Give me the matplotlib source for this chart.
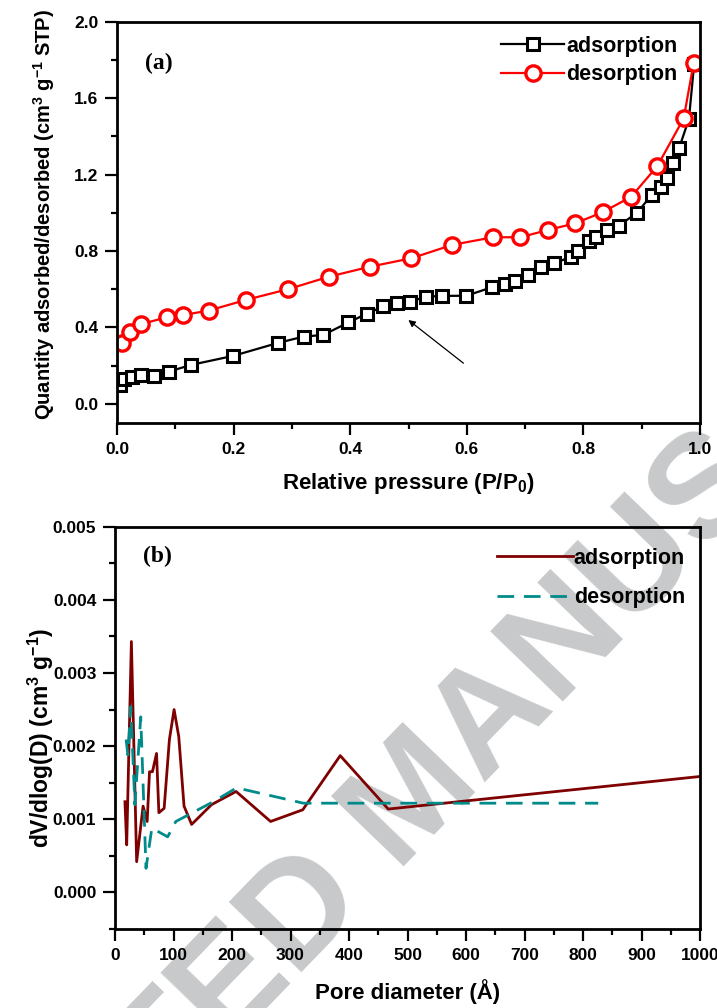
import matplotlib
matplotlib.use("Agg")
import matplotlib.pyplot as plt
from matplotlib.ticker import MultipleLocator, FormatStrFormatter

# ---------------- data ----------------
# (a) isotherm
ads_p = [0.005, 0.012, 0.025, 0.042, 0.064, 0.089, 0.127, 0.199, 0.276, 0.320,
         0.354, 0.397, 0.429, 0.457, 0.480, 0.503, 0.530, 0.558, 0.599, 0.643,
         0.665, 0.683, 0.705, 0.727, 0.750, 0.779, 0.791, 0.810, 0.821, 0.840,
         0.861, 0.892, 0.917, 0.933, 0.944, 0.954, 0.964, 0.981, 0.990]
ads_q = [0.100, 0.130, 0.143, 0.149, 0.146, 0.169, 0.204, 0.251, 0.319, 0.352,
         0.361, 0.426, 0.473, 0.510, 0.527, 0.535, 0.561, 0.565, 0.566, 0.610,
         0.628, 0.643, 0.675, 0.718, 0.736, 0.770, 0.802, 0.854, 0.875, 0.910,
         0.933, 1.000, 1.093, 1.137, 1.184, 1.259, 1.337, 1.491, 1.780]
des_p = [0.008, 0.022, 0.042, 0.085, 0.113, 0.157, 0.221, 0.293, 0.364, 0.434,
         0.505, 0.575, 0.645, 0.692, 0.739, 0.786, 0.833, 0.882, 0.927, 0.972, 0.989]
des_q = [0.321, 0.378, 0.418, 0.453, 0.465, 0.488, 0.544, 0.600, 0.666, 0.718,
         0.762, 0.832, 0.872, 0.872, 0.910, 0.945, 1.003, 1.084, 1.245, 1.494, 1.782]

# (b) pore size distribution
psd_ads_d = [17, 20, 28, 37, 48, 55, 59, 64, 71, 75, 84, 93, 101, 109, 118, 131,
             165, 207, 266, 321, 385, 467, 1000]
psd_ads_v = [0.00124, 0.00065, 0.00343, 0.00042, 0.00118, 0.00097, 0.00165, 0.00165,
             0.00190, 0.00109, 0.00115, 0.00209, 0.00250, 0.00213, 0.00118, 0.00093,
             0.00120, 0.00138, 0.00097, 0.00113, 0.00187, 0.00114, 0.001585]
psd_des_d = [19, 22, 27, 34, 44, 53, 63, 90, 104, 168, 208, 322, 826]
psd_des_v = [0.00209, 0.00188, 0.00254, 0.00120, 0.00240, 0.00033, 0.00088, 0.00076,
             0.00097, 0.00124, 0.00143, 0.00122, 0.00122]

series_labels = ["adsorption", "desorption"]

# ---------------- style ----------------
plt.rcParams['font.family'] = ['Liberation Sans', 'DejaVu Sans']
plt.rcParams['font.weight'] = 'bold'
plt.rcParams['mathtext.fontset'] = 'custom'
plt.rcParams['mathtext.bf'] = 'Liberation Sans:bold'
plt.rcParams['mathtext.rm'] = 'Liberation Sans:bold'
plt.rcParams['mathtext.default'] = 'bf'

W, H = 717, 1008
fig = plt.figure(figsize=(W / 100, H / 100), dpi=100)

ax1 = fig.add_axes([117 / W, 1 - 423 / H, 583 / W, (423 - 21.7) / H])
ax2 = fig.add_axes([115 / W, 1 - 929 / H, 585 / W, (929 - 526.7) / H])

for ax in (ax1, ax2):
    ax.set_facecolor('none')
    for s in ax.spines.values():
        s.set_linewidth(2)
    ax.tick_params(which='both', direction='out', width=1.6, labelsize=12.5, pad=5,
                   top=False, right=False)
    ax.tick_params(which='major', length=8.5)
    ax.tick_params(which='minor', length=4.5)

# watermark (behind axes content)
fig.text(416 / W, 1 - 800 / H, "ACCEPTED MANUSCRIPT", fontsize=106, fontweight='bold',
         color='#c8c9ca', rotation=46, rotation_mode='anchor', ha='center', va='center',
         zorder=-5)

# ----- panel (a) -----
ax1.plot(ads_p, ads_q, '-s', color='black', lw=1.6, ms=9, mew=2.2, mfc='white',
         mec='black', label=series_labels[0])
ax1.plot(des_p, des_q, '-o', color='red', lw=1.6, ms=11, mew=2.4, mfc='white',
         mec='red', label=series_labels[1])
ax1.set_xlim(0, 1.0)
ax1.set_ylim(-0.1, 2.0)
ax1.xaxis.set_major_locator(MultipleLocator(0.2))
ax1.xaxis.set_minor_locator(MultipleLocator(0.1))
ax1.yaxis.set_major_locator(MultipleLocator(0.4))
ax1.yaxis.set_minor_locator(MultipleLocator(0.2))
ax1.xaxis.set_major_formatter(FormatStrFormatter('%.1f'))
ax1.yaxis.set_major_formatter(FormatStrFormatter('%.1f'))
ax1.set_xlabel(r'Relative pressure (P/P$_\mathbf{0}$)', fontsize=16, fontweight='bold')
ax1.set_ylabel(r'Quantity adsorbed/desorbed (cm$^\mathbf{3}$ g$^\mathbf{-1}$ STP)',
               fontsize=14.5, fontweight='bold', va='center')
ax1.yaxis.set_label_coords(-0.125, 0.52)
ax1.xaxis.set_label_coords(0.5, -0.12)
ax1.text(0.048, 0.895, '(a)', transform=ax1.transAxes, fontsize=17, fontweight='bold',
         family='Liberation Serif', va='center', ha='left')
ax1.annotate('', xy=(0.496, 0.448), xytext=(0.598, 0.204),
             arrowprops=dict(arrowstyle='-|>', color='black', lw=0.9,
                             mutation_scale=10))
leg1 = ax1.legend(loc='upper right', bbox_to_anchor=(0.985, 1.0), frameon=False,
                  fontsize=15.5, handlelength=2.9, handletextpad=0.1,
                  labelspacing=0.35, borderaxespad=0.25)
for t in leg1.get_texts():
    t.set_fontweight('bold')

# ----- panel (b) -----
ax2.plot(psd_ads_d, psd_ads_v, '-', color='#7f0000', lw=2.0, label=series_labels[0])
ax2.plot(psd_des_d, psd_des_v, '--', color='#008b8b', lw=2.0, dashes=(6, 3.5),
         label=series_labels[1])
ax2.set_xlim(0, 1000)
ax2.set_ylim(-0.0005, 0.005)
ax2.xaxis.set_major_locator(MultipleLocator(100))
ax2.xaxis.set_minor_locator(MultipleLocator(50))
ax2.yaxis.set_major_locator(MultipleLocator(0.001))
ax2.yaxis.set_minor_locator(MultipleLocator(0.0005))
ax2.yaxis.set_major_formatter(FormatStrFormatter('%.3f'))
ax2.set_xlabel('Pore diameter (Å)', fontsize=16, fontweight='bold')
ax2.set_ylabel(r'dV/dlog(D) (cm$^\mathbf{3}$ g$^\mathbf{-1}$)', fontsize=16.5,
               fontweight='bold', va='center')
ax2.yaxis.set_label_coords(-0.126, 0.476)
ax2.xaxis.set_label_coords(0.5, -0.125)
ax2.text(0.048, 0.925, '(b)', transform=ax2.transAxes, fontsize=17, fontweight='bold',
         family='Liberation Serif', va='center', ha='left')
leg2 = ax2.legend(loc='upper right', bbox_to_anchor=(1.0, 0.985), frameon=False,
                  fontsize=15.5, handlelength=3.5, handletextpad=0.05,
                  labelspacing=0.85, borderaxespad=0.3)
for t in leg2.get_texts():
    t.set_fontweight('bold')

for ax in (ax1, ax2):
    for lab in ax.get_xticklabels() + ax.get_yticklabels():
        lab.set_fontweight('bold')

fig.savefig('out.png', dpi=100)
